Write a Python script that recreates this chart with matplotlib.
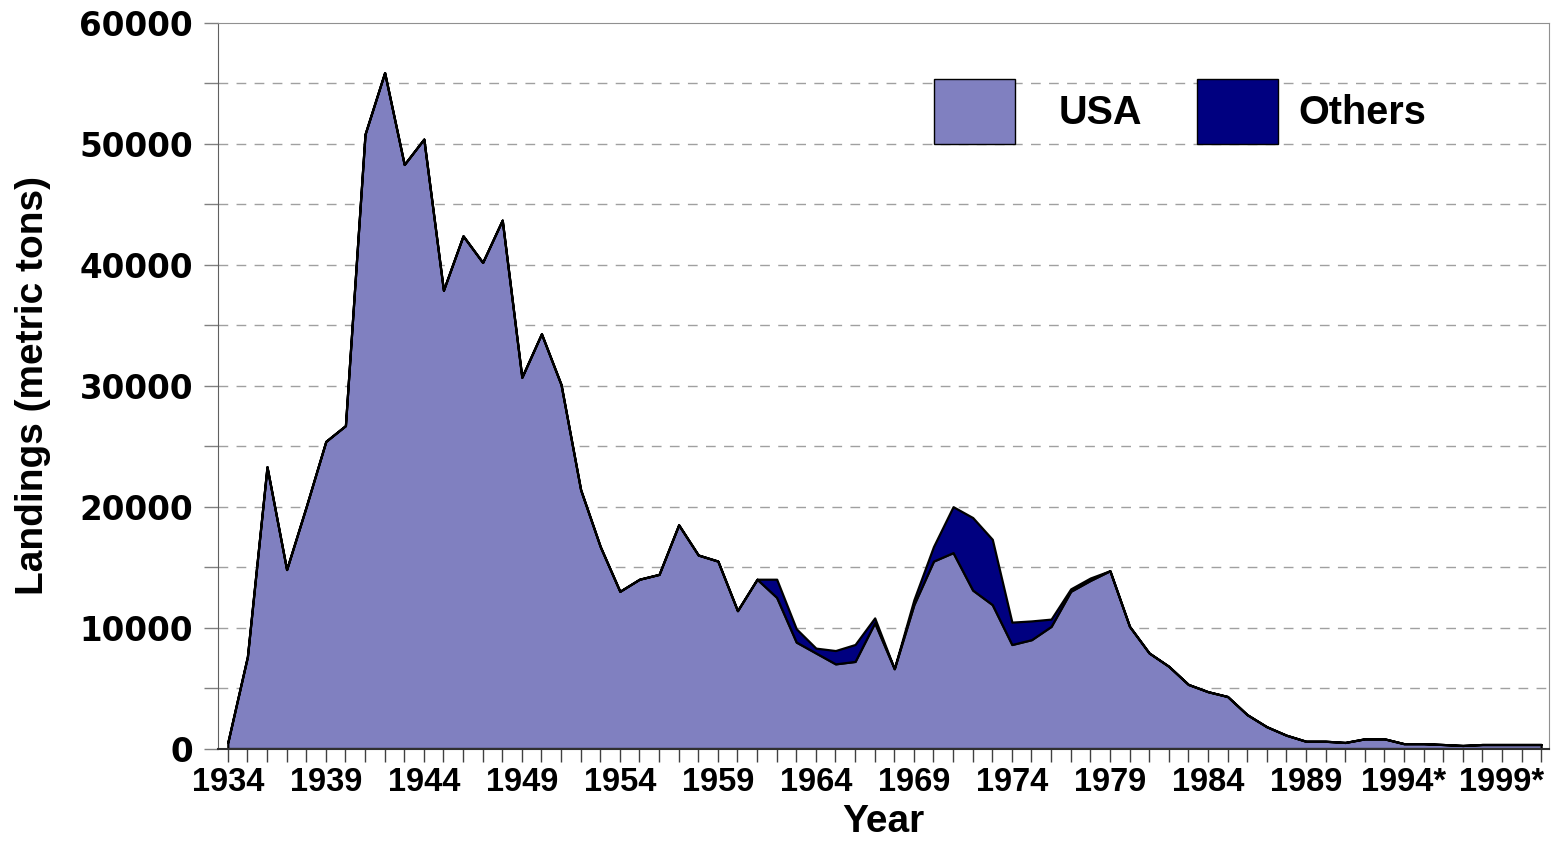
import matplotlib
matplotlib.use("Agg")
import matplotlib.pyplot as plt
import numpy as np
from matplotlib.ticker import MultipleLocator, FixedLocator

plt.rcParams['font.family'] = ['Liberation Sans', 'DejaVu Sans']

years = np.arange(1934, 2002)

# landings, metric tons
usa = [500, 7600, 23300, 14800, 20000, 25400, 26700, 50800, 55900, 48300,
       50400, 37900, 42400, 40200, 43700, 30700, 34300, 30100, 21400, 16700,
       13000, 14000, 14400, 18500, 16000, 15500, 11400, 14000, 12500, 8800,
       7900, 7000, 7200, 10400, 6600, 11900, 15500, 16200, 13100, 11900,
       8600, 9000, 10100, 13000, 13900, 14700, 10100, 7900, 6800, 5300,
       4700, 4300, 2800, 1800, 1100, 600, 600, 500, 800, 800,
       400, 400, 330, 250, 330, 330, 330, 330]
others = [0, 0, 0, 0, 0, 0, 0, 0, 0, 0,
          0, 0, 0, 0, 0, 0, 0, 0, 0, 0,
          0, 0, 0, 0, 0, 0, 0, 0, 1500, 1100,
          400, 1100, 1400, 400, 0, 400, 1200, 3800, 6000, 5400,
          1850, 1550, 600, 200, 200, 0, 0, 0, 0, 0,
          0, 0, 0, 0, 0, 0, 0, 0, 0, 0,
          0, 0, 0, 0, 0, 0, 0, 0]
series_names = ['USA', 'Others']
label_years = list(range(1934, 2000, 5))
label_text = [str(y) if y < 1994 else str(y) + '*' for y in label_years]

fig = plt.figure(figsize=(15.51, 8.42), dpi=100)
ax = fig.add_axes([218/1551, 93.5/842, 1331/1551, 725.5/842])

polys = ax.stackplot(years, usa, others, colors=['#8080c0', '#000080'],
                     edgecolor='black', linewidth=1.6, labels=series_names, zorder=3)

ax.set_xlim(1933.5, 2001.4)
ax.set_ylim(0, 60000)

# y axis
ax.yaxis.set_major_locator(MultipleLocator(10000))
ax.yaxis.set_minor_locator(MultipleLocator(5000))
ax.tick_params(axis='y', which='both', direction='out', length=10, width=1,
               color='#808080', labelsize=23.5, pad=8)
for t in ax.get_yticklabels():
    t.set_fontweight('bold')
    t.set_fontfamily('DejaVu Sans')

for yv in np.arange(5000, 60000, 5000):
    ax.axhline(yv, color='#a0a0a0', lw=1, linestyle=(0, (7, 6)), zorder=1)

# x axis
ax.xaxis.set_major_locator(FixedLocator(label_years))
ax.xaxis.set_minor_locator(MultipleLocator(1))
ax.set_xticklabels(label_text, fontsize=23.5, fontweight='bold')
ax.tick_params(axis='x', which='both', direction='out', length=9, width=1,
               color='#404040', pad=4)

for side in ['top', 'right']:
    ax.spines[side].set_color('#909090')
ax.spines['left'].set_color('#606060')
ax.spines['bottom'].set_color('#303030')
ax.spines['bottom'].set_linewidth(1.5)
ax.spines['bottom'].set_zorder(5)

ax.set_xlabel('Year', fontsize=28, fontweight='bold', labelpad=5)
ax.set_ylabel('Landings (metric tons)', fontsize=28, fontweight='bold', labelpad=20)

# two one-entry legends so each text gap can follow the original
leg_pos = [0.538, 0.7355]
leg_pad = [1.09, 0.5]
legs = []
for poly, name, xpos, pad in zip(polys, series_names, leg_pos, leg_pad):
    leg = ax.legend([poly], [name], loc='upper left', bbox_to_anchor=(xpos, 0.923),
                    frameon=False, fontsize=28.5, handlelength=2.05, handleheight=2.16,
                    handletextpad=pad, borderpad=0, borderaxespad=0)
    for t in leg.get_texts():
        t.set_fontweight('bold')
    for h in leg.legend_handles:
        h.set_edgecolor('black')
        h.set_linewidth(1)
    legs.append(leg)
ax.add_artist(legs[0])

fig.savefig('out.png', dpi=100)
